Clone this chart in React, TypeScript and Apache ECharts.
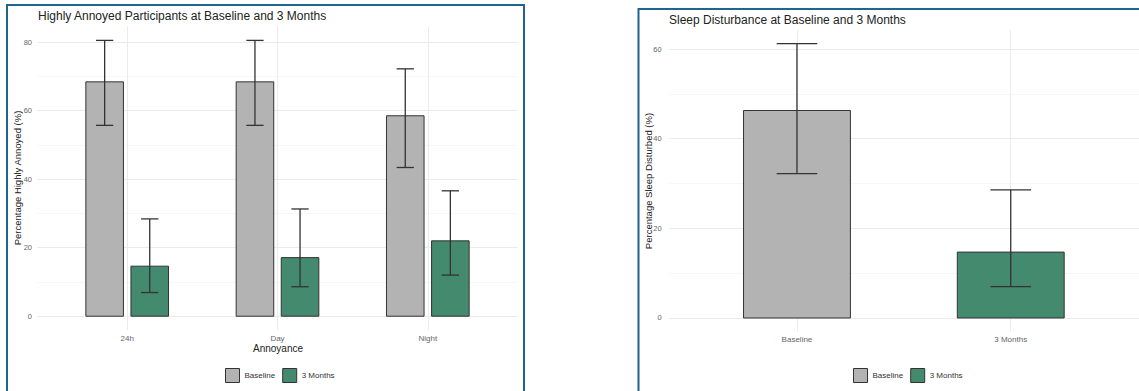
import React, { useEffect, useRef } from "react";
import * as echarts from "echarts";

// ---- Data: Highly annoyed (left panel) ----
const annoyCategories = ["24h", "Day", "Night"];
const annoyBaseline = [68.4, 68.4, 58.5];
const annoyBaselineLow = [55.7, 55.7, 43.4];
const annoyBaselineHigh = [80.5, 80.5, 72.2];
const annoy3m = [14.6, 17.1, 22.0];
const annoy3mLow = [6.9, 8.6, 12.0];
const annoy3mHigh = [28.4, 31.3, 36.6];
const annoyTicks = [0, 20, 40, 60, 80];
const annoyMinorTicks = [10, 30, 50, 70];

// ---- Data: Sleep disturbance (right panel) ----
const sleepCategories = ["Baseline", "3 Months"];
const sleepValues = [46.3, 14.7];
const sleepLow = [32.2, 7.0];
const sleepHigh = [61.2, 28.6];
const sleepTicks = [0, 20, 40, 60];
const sleepMinorTicks = [10, 30, 50];

const seriesNames = ["Baseline", "3 Months"];
const GRAY = "#b3b3b3";
const GREEN = "#448a6f";
const FONT = "'Liberation Sans', Arial, sans-serif";
const BORDER = "#1f6590";

const makeRender = (width: number, offset: number, capW: number) => (params: any, api: any) => {
  const x = api.value(0) + offset;
  const v = api.value(1);
  const lo = api.value(2);
  const hi = api.value(3);
  const p0 = api.coord([x - width / 2, v]);
  const p1 = api.coord([x + width / 2, 0]);
  const top = api.coord([x, hi]);
  const bot = api.coord([x, lo]);
  const cl = api.coord([x - capW / 2, lo]);
  const cr = api.coord([x + capW / 2, lo]);
  const half = (cr[0] - cl[0]) / 2;
  const lineStyle = { stroke: "#333", lineWidth: 1.3 };
  return {
    type: "group",
    children: [
      {
        type: "rect",
        shape: { x: p0[0], y: p0[1], width: p1[0] - p0[0], height: p1[1] - p0[1] },
        style: { fill: api.visual("color"), stroke: "#333", lineWidth: 1 },
      },
      { type: "line", shape: { x1: top[0], y1: top[1], x2: bot[0], y2: bot[1] }, style: lineStyle },
      { type: "line", shape: { x1: top[0] - half, y1: top[1], x2: top[0] + half, y2: top[1] }, style: lineStyle },
      { type: "line", shape: { x1: bot[0] - half, y1: bot[1], x2: bot[0] + half, y2: bot[1] }, style: lineStyle },
    ],
  };
};

const majorSplit = { show: true, lineStyle: { color: "#ebebeb", width: 1 } };
const minorSplit = { show: true, lineStyle: { color: "#f4f4f4", width: 0.7 } };

function xAxisFor(gridIndex: number, cats: string[]) {
  const idx = cats.map((_, i) => i + 1);
  return {
    type: "value",
    gridIndex,
    min: 0.4,
    max: cats.length + 0.6,
    axisLine: { show: false },
    axisTick: { show: false, customValues: idx },
    axisLabel: {
      customValues: idx,
      formatter: (v: number) => cats[Math.round(v) - 1] ?? "",
      color: "#666",
      fontSize: 8,
      fontFamily: FONT,
      margin: 4,
    },
    splitLine: majorSplit,
  };
}

function yAxesFor(gridIndex: number, min: number, max: number, ticks: number[], minor: number[], margin: number) {
  return [
    {
      type: "value",
      gridIndex,
      min,
      max,
      axisLine: { show: false },
      axisTick: { show: false, customValues: ticks },
      axisLabel: { customValues: ticks, color: "#666", fontSize: 7.5, fontFamily: FONT, margin },
      splitLine: majorSplit,
    },
    {
      type: "value",
      gridIndex,
      min,
      max,
      position: "left",
      axisLine: { show: false },
      axisTick: { show: false, customValues: minor },
      axisLabel: { show: false },
      splitLine: minorSplit,
    },
  ];
}

const legendData = [
  { name: "Baseline", icon: "rect", itemStyle: { color: GRAY, borderColor: "#333", borderWidth: 1 } },
  { name: "3 Months", icon: "rect", itemStyle: { color: GREEN, borderColor: "#333", borderWidth: 1 } },
];

export default function App() {
  const ref = useRef<HTMLDivElement>(null);
  useEffect(() => {
    if (!ref.current) return;
    const chart = echarts.init(ref.current, null, { renderer: "svg" });

    const annoyMax = Math.max(...annoyBaselineHigh, ...annoy3mHigh);
    const annoyPad = annoyMax * 0.05;
    const sleepMax = Math.max(...sleepHigh);
    const sleepPad = sleepMax * 0.05;

    const leftY = yAxesFor(0, -annoyPad, annoyMax + annoyPad, annoyTicks, annoyMinorTicks, 5);
    const rightY = yAxesFor(1, -sleepPad, sleepMax + sleepPad, sleepTicks, sleepMinorTicks, 7);

    const textStyle = (t: string, size: number, color: string, extra: any = {}) => ({
      text: t,
      fontSize: size,
      fontFamily: FONT,
      fill: color,
      ...extra,
    });

    const legendCommon = {
      top: 368,
      padding: 0,
      itemWidth: 14,
      itemHeight: 14,
      itemGap: 7,
      selectedMode: false,
      data: legendData,
      textStyle: { fontSize: 8, color: "#333", fontFamily: FONT },
    };

    chart.setOption({
      animation: false,
      backgroundColor: "#ffffff",
      grid: [
        { left: 37, top: 26.6, width: 481, height: 303.4 },
        { left: 668.7, top: 30, width: 475.3, height: 301.7 },
      ],
      xAxis: [xAxisFor(0, annoyCategories), xAxisFor(1, sleepCategories)],
      yAxis: [...leftY, ...rightY],
      legend: [
        { ...legendCommon, left: 225 },
        { ...legendCommon, left: 853 },
      ],
      series: [
        {
          name: seriesNames[0],
          type: "custom",
          xAxisIndex: 0,
          yAxisIndex: 0,
          itemStyle: { color: GRAY },
          renderItem: makeRender(0.25, -0.15, 0.115),
          data: annoyCategories.map((_, i) => [i + 1, annoyBaseline[i], annoyBaselineLow[i], annoyBaselineHigh[i]]),
          encode: { x: 0, y: 1 },
        },
        {
          name: seriesNames[1],
          type: "custom",
          xAxisIndex: 0,
          yAxisIndex: 0,
          itemStyle: { color: GREEN },
          renderItem: makeRender(0.25, 0.15, 0.115),
          data: annoyCategories.map((_, i) => [i + 1, annoy3m[i], annoy3mLow[i], annoy3mHigh[i]]),
          encode: { x: 0, y: 1 },
        },
        {
          name: seriesNames[0],
          type: "custom",
          xAxisIndex: 1,
          yAxisIndex: 2,
          itemStyle: { color: GRAY },
          renderItem: makeRender(0.5, 0, 0.19),
          data: [[1, sleepValues[0], sleepLow[0], sleepHigh[0]]],
          encode: { x: 0, y: 1 },
        },
        {
          name: seriesNames[1],
          type: "custom",
          xAxisIndex: 1,
          yAxisIndex: 2,
          itemStyle: { color: GREEN },
          renderItem: makeRender(0.5, 0, 0.19),
          data: [[2, sleepValues[1], sleepLow[1], sleepHigh[1]]],
          encode: { x: 0, y: 1 },
        },
      ],
      graphic: [
        {
          type: "rect",
          shape: { x: 7, y: 5, width: 517, height: 420 },
          style: { fill: "none", stroke: BORDER, lineWidth: 2 },
          silent: true,
        },
        {
          type: "rect",
          shape: { x: 638.5, y: 9, width: 620, height: 420 },
          style: { fill: "none", stroke: BORDER, lineWidth: 2 },
          silent: true,
        },
        {
          type: "text",
          x: 38,
          y: 15.7,
          style: textStyle("Highly Annoyed Participants at Baseline and 3 Months", 12, "#222", { align: "left", verticalAlign: "middle" }),
        },
        {
          type: "text",
          x: 669,
          y: 20,
          style: textStyle("Sleep Disturbance at Baseline and 3 Months", 12, "#222", { align: "left", verticalAlign: "middle" }),
        },
        {
          type: "text",
          x: 17,
          y: 178,
          rotation: Math.PI / 2,
          style: textStyle("Percentage Highly Annoyed (%)", 9.5, "#222", { align: "center", verticalAlign: "middle" }),
        },
        {
          type: "text",
          x: 648,
          y: 181,
          rotation: Math.PI / 2,
          style: textStyle("Percentage Sleep Disturbed (%)", 9.5, "#222", { align: "center", verticalAlign: "middle" }),
        },
        {
          type: "text",
          x: 278,
          y: 348,
          style: textStyle("Annoyance", 10, "#222", { align: "center", verticalAlign: "middle" }),
        },
      ],
    });
    return () => chart.dispose();
  }, []);
  return (
    <div
      ref={ref}
      style={{ position: "fixed", left: 0, top: 0, width: 1139, height: 391, background: "#fff" }}
    />
  );
}
